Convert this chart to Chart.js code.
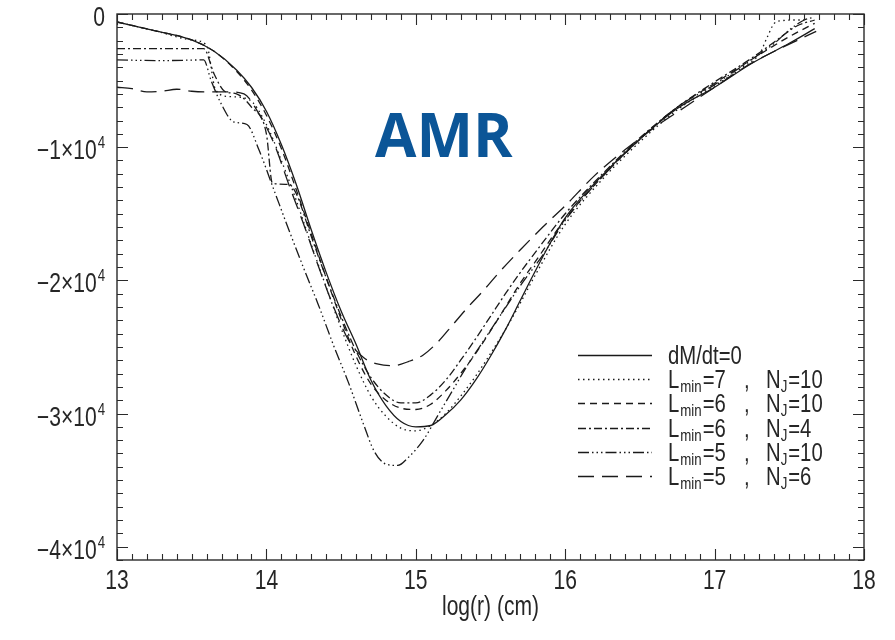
<!DOCTYPE html>
<html>
<head>
<meta charset="UTF-8">
<title>AMR accretion profiles</title>
<script src="https://cdn.jsdelivr.net/npm/chart.js"></script>
<style>
  body { margin: 0; background: #fff; }
</style>
</head>
<body>
<canvas id="myChart" width="895" height="640"></canvas>
<script>
// log(r) samples and values for each run
const xSolid = [13.0, 13.25, 13.5, 13.65, 13.8, 13.9, 14.0, 14.1, 14.2, 14.3, 14.4, 14.5, 14.6, 14.7, 14.8, 14.9, 15.0, 15.1, 15.2, 15.3, 15.4, 15.5, 15.6, 15.7, 15.8, 15.9, 16.0, 16.25, 16.5, 16.75, 17.0, 17.25, 17.5, 17.67];
const ySolid = [-600, -1250, -1950, -2800, -4200, -5500, -7300, -9800, -12800, -16200, -19400, -22300, -24800, -27500, -29400, -30600, -31000, -30900, -30100, -29000, -27500, -25700, -23700, -21500, -19300, -17200, -15300, -12100, -9400, -7100, -5500, -3700, -2200, -1100];

const xL7N10 = [13.0, 13.25, 13.5, 13.6, 13.66, 13.75, 13.88, 14.0, 14.1, 14.2, 14.3, 14.4, 14.5, 14.6, 14.7, 14.8, 14.9, 15.0, 15.1, 15.2, 15.3, 15.4, 15.5, 15.6, 15.7, 15.8, 16.0, 16.25, 16.5, 16.75, 17.0, 17.2, 17.3, 17.35, 17.4, 17.45, 17.55, 17.6];
const yL7N10 = [-600, -1250, -1950, -2350, -5700, -6200, -6400, -8300, -11000, -14000, -17300, -20500, -23600, -26400, -28700, -30200, -31100, -31300, -30900, -30000, -28700, -27200, -25500, -23700, -21700, -19600, -15800, -12400, -9600, -7200, -5400, -3900, -3000, -1800, -700, -500, -450, -450];

const xL6N10 = [13.0, 13.25, 13.5, 13.65, 13.8, 13.9, 14.0, 14.1, 14.2, 14.3, 14.4, 14.5, 14.6, 14.7, 14.8, 14.9, 15.0, 15.1, 15.2, 15.3, 15.4, 15.5, 15.6, 15.7, 15.8, 16.0, 16.25, 16.5, 16.75, 17.0, 17.25, 17.5, 17.67];
const yL6N10 = [-600, -1250, -1950, -2800, -4300, -5700, -7600, -10100, -13200, -16500, -19800, -22900, -25700, -27800, -29000, -29600, -29700, -29300, -28300, -27000, -25500, -23800, -22000, -20200, -18600, -15400, -12200, -9400, -7000, -5200, -3400, -1700, -700];

const xL6N4 = [13.0, 13.3, 13.58, 13.65, 13.72, 13.8, 13.9, 14.0, 14.04, 14.15, 14.2, 14.3, 14.4, 14.5, 14.6, 14.7, 14.8, 14.9, 15.0, 15.1, 15.2, 15.3, 15.4, 15.5, 15.6, 15.7, 15.8, 16.0, 16.25, 16.5, 16.75, 17.0, 17.25, 17.4, 17.55, 17.67];
const yL6N4 = [-2600, -2600, -2600, -4500, -5800, -6000, -7000, -9000, -12700, -12800, -13500, -16700, -19800, -22700, -25300, -27300, -28600, -29200, -29200, -28600, -27500, -26000, -24400, -22700, -21000, -19400, -17900, -15000, -12000, -9300, -7000, -5100, -3300, -2100, -900, -450];

const xL5N10 = [13.0, 13.3, 13.58, 13.63, 13.7, 13.78, 13.87, 13.95, 14.05, 14.15, 14.25, 14.35, 14.45, 14.55, 14.65, 14.72, 14.8, 14.88, 14.95, 15.05, 15.15, 15.25, 15.35, 15.45, 15.55, 15.7, 15.85, 16.0, 16.25, 16.5, 16.75, 17.0, 17.25, 17.4, 17.5, 17.6, 17.66];
const yL5N10 = [-3450, -3500, -3450, -5000, -6800, -8100, -8300, -10200, -13200, -16200, -19100, -21900, -24900, -27700, -30800, -32800, -33800, -33900, -33300, -32000, -30100, -28200, -26300, -24600, -22900, -20400, -18100, -15500, -12200, -9400, -7000, -5300, -3400, -2200, -1200, -450, -250];

const xL5N6 = [13.0, 13.1, 13.2, 13.3, 13.4, 13.5, 13.6, 13.75, 13.85, 13.95, 14.05, 14.15, 14.25, 14.35, 14.45, 14.55, 14.65, 14.75, 14.85, 14.95, 15.05, 15.15, 15.25, 15.35, 15.45, 15.55, 15.7, 15.85, 16.0, 16.2, 16.4, 16.6, 16.8, 17.0, 17.2, 17.4, 17.55, 17.68];
const yL5N6 = [-5500, -5600, -5850, -5800, -5650, -5800, -5850, -5850, -6000, -7500, -9700, -12800, -15800, -19000, -22000, -24500, -25800, -26300, -26400, -26100, -25600, -24600, -23300, -22000, -20800, -19500, -17700, -16000, -14400, -12100, -10200, -8500, -7000, -5500, -4000, -2800, -2000, -1300];

// axis ticks
const xTicks = [13, 14, 15, 16, 17, 18];
const yTicks = [0, -10000, -20000, -30000, -40000];
const yTickMant = ['0', '\u22121\u00d710', '\u22122\u00d710', '\u22123\u00d710', '\u22124\u00d710'];
const yTickExp = ['', '4', '4', '4', '4'];

// legend entries: letter, subscript, value, letter, subscript, value
const legendRows = [
  ['dM/dt=0'],
  ['L', 'min', '=7', 'N', 'J', '=10'],
  ['L', 'min', '=6', 'N', 'J', '=10'],
  ['L', 'min', '=6', 'N', 'J', '=4'],
  ['L', 'min', '=5', 'N', 'J', '=10'],
  ['L', 'min', '=5', 'N', 'J', '=6']
];

const ink = '#1a1a1a';
const SQ = 0.78; // horizontal squeeze for the narrow axis font
const FONT = '"Liberation Sans", "DejaVu Sans", sans-serif';

function pts(xs, ys) {
  return xs.map((v, i) => ({ x: v, y: ys[i] }));
}

function series(data, dash) {
  return {
    data: data,
    borderColor: ink,
    borderWidth: 1.3,
    borderDash: dash,
    pointRadius: 0,
    fill: false,
    cubicInterpolationMode: 'monotone'
  };
}

const dashes = [
  [],
  [1.5, 3.5],
  [7, 5],
  [8, 3, 2, 3],
  [11, 3, 1.5, 3, 1.5, 3, 1.5, 3],
  [16, 8]
];

function narrowText(ctx, s, x, y, size, align) {
  ctx.save();
  ctx.font = size + 'px ' + FONT;
  const w = ctx.measureText(s).width * SQ;
  let left = x;
  if (align === 'right') left = x - w;
  else if (align === 'center') left = x - w / 2;
  ctx.translate(left, y);
  ctx.scale(SQ, 1);
  ctx.textAlign = 'left';
  ctx.textBaseline = 'alphabetic';
  ctx.fillText(s, 0, 0);
  ctx.restore();
  return w;
}

const framePlugin = {
  id: 'frame',
  afterDraw(chart) {
    const { ctx, chartArea: a, scales: { x, y } } = chart;
    ctx.save();
    ctx.strokeStyle = '#2a2a2a';
    ctx.fillStyle = '#262626';
    ctx.lineWidth = 1.4;
    ctx.strokeRect(a.left, a.top, a.right - a.left, a.bottom - a.top);

    // inward ticks on all four sides
    ctx.lineWidth = 1.1;
    ctx.beginPath();
    for (let i = 130; i <= 180; i++) {
      const px = Math.round(x.getPixelForValue(i / 10)) + 0.5;
      const len = i % 10 === 0 ? 11 : 6;
      ctx.moveTo(px, a.bottom); ctx.lineTo(px, a.bottom - len);
      ctx.moveTo(px, a.top); ctx.lineTo(px, a.top + len);
    }
    for (let i = 0; i <= 41; i++) {
      const v = -i * 1000;
      if (v < y.min) break;
      const py = Math.round(y.getPixelForValue(v)) + 0.5;
      const len = i % 10 === 0 ? 11 : 6;
      ctx.moveTo(a.left, py); ctx.lineTo(a.left + len, py);
      ctx.moveTo(a.right, py); ctx.lineTo(a.right - len, py);
    }
    ctx.stroke();

    // tick labels
    xTicks.forEach(v => {
      narrowText(ctx, String(v), x.getPixelForValue(v), a.bottom + 29, 27, 'center');
    });
    yTicks.forEach((v, i) => {
      const py = y.getPixelForValue(v);
      const right = a.left - 12;
      let r = right;
      if (yTickExp[i]) {
        const ew = narrowText(ctx, yTickExp[i], right, py + 1, 17, 'right');
        r = right - ew - 1;
      }
      narrowText(ctx, yTickMant[i], r, py + 12, 27, 'right');
    });
    narrowText(ctx, 'log(r) (cm)', (a.left + a.right) / 2, 615, 27, 'center');

    // legend
    const rowY = [355, 379, 403, 428, 452, 476];
    legendRows.forEach((row, i) => {
      const ly = rowY[i];
      ctx.save();
      ctx.strokeStyle = ink;
      ctx.lineWidth = 1.3;
      ctx.setLineDash(dashes[i]);
      ctx.beginPath();
      ctx.moveTo(578, ly + 0.5);
      ctx.lineTo(652, ly + 0.5);
      ctx.stroke();
      ctx.restore();
      const base = ly + 9;
      if (row.length === 1) {
        narrowText(ctx, row[0], 668, base, 26, 'left');
      } else {
        let cx = 668;
        cx += narrowText(ctx, row[0], cx, base, 26, 'left') + 1;
        cx += narrowText(ctx, row[1], cx, base + 4, 17, 'left') + 1;
        narrowText(ctx, row[2], cx, base, 26, 'left');
        narrowText(ctx, ',', 744, base, 26, 'left');
        cx = 766;
        cx += narrowText(ctx, row[3], cx, base, 26, 'left');
        cx += narrowText(ctx, row[4], cx, base + 4, 17, 'left') + 1;
        narrowText(ctx, row[5], cx, base, 26, 'left');
      }
    });

    // panel tag
    ctx.fillStyle = '#0b5597';
    ctx.font = 'bold 60px "Open Sans", "Noto Sans", sans-serif';
    ctx.textAlign = 'left';
    ctx.textBaseline = 'alphabetic';
    ctx.fillText('AMR', 375, 157);
    ctx.restore();
  }
};

new Chart(document.getElementById('myChart'), {
  type: 'line',
  data: {
    datasets: [
      series(pts(xSolid, ySolid), dashes[0]),
      series(pts(xL7N10, yL7N10), dashes[1]),
      series(pts(xL6N10, yL6N10), dashes[2]),
      series(pts(xL6N4, yL6N4), dashes[3]),
      series(pts(xL5N10, yL5N10), dashes[4]),
      series(pts(xL5N6, yL5N6), dashes[5])
    ]
  },
  options: {
    responsive: false,
    animation: false,
    devicePixelRatio: 1,
    layout: { padding: { top: 14, right: 31, left: 0, bottom: 0 } },
    plugins: { legend: { display: false }, tooltip: { enabled: false } },
    scales: {
      x: {
        type: 'linear',
        min: 13,
        max: 18,
        grid: { display: false },
        border: { display: false },
        ticks: { display: false },
        afterFit(scale) { scale.height = 80; }
      },
      y: {
        type: 'linear',
        min: -41000,
        max: 0,
        grid: { display: false },
        border: { display: false },
        ticks: { display: false },
        afterFit(scale) { scale.width = 117; }
      }
    }
  },
  plugins: [framePlugin]
});
</script>
</body>
</html>
